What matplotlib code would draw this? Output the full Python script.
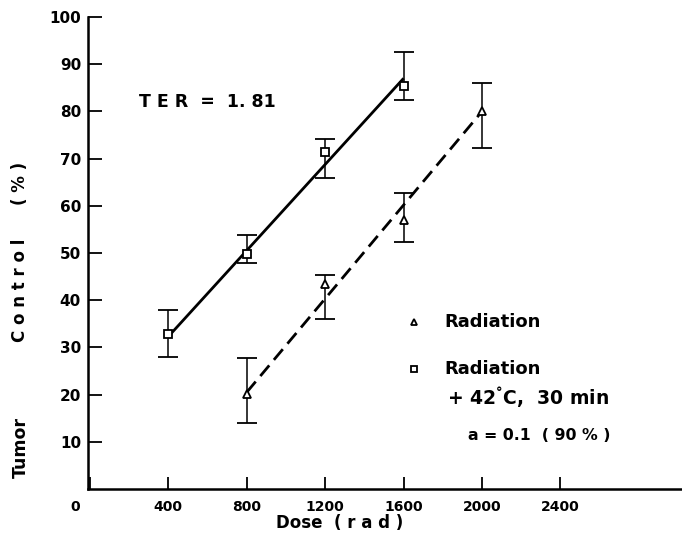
import matplotlib
matplotlib.use("Agg")
import matplotlib.pyplot as plt
from matplotlib.transforms import ScaledTranslation

# Data
dose_sq = [400, 800, 1200, 1600]
ctrl_sq = [32.8, 49.8, 71.3, 85.4]
err_sq_low = [28.0, 47.8, 65.9, 82.5]
err_sq_high = [38.0, 53.8, 74.2, 92.6]

dose_tri = [800, 1200, 1600, 2000]
ctrl_tri = [20.1, 43.5, 57.0, 80.1]
err_tri_low = [14.0, 36.0, 52.3, 72.3]
err_tri_high = [27.8, 45.3, 62.8, 86.1]

fit_sq_x = [400, 1600]
fit_sq_y = [32.3, 87.0]
fit_tri_x = [800, 2000]
fit_tri_y = [20.5, 80.0]

xticks = [0, 400, 800, 1200, 1600, 2000, 2400]
yticks = [10, 20, 30, 40, 50, 60, 70, 80, 90, 100]

plt.rcParams['font.family'] = ['DejaVu Sans']
plt.rcParams['font.weight'] = 'bold'

fig = plt.figure(figsize=(6.82, 5.39), dpi=100)
ax = fig.add_axes([0.129, 0.0928, 0.871, 0.8757])

ax.plot(fit_sq_x, fit_sq_y, color='black', lw=2.0, solid_capstyle='butt')
ax.plot(fit_tri_x, fit_tri_y, color='black', lw=2.0, dashes=(5, 2.6))

ax.errorbar(dose_sq, ctrl_sq,
            yerr=[[c - l for c, l in zip(ctrl_sq, err_sq_low)],
                  [h - c for c, h in zip(ctrl_sq, err_sq_high)]],
            fmt='s', ms=6, mfc='white', mec='black', mew=1.3,
            ecolor='black', elinewidth=1.1, capsize=7, capthick=1.3, zorder=3)
ax.errorbar(dose_tri, ctrl_tri,
            yerr=[[c - l for c, l in zip(ctrl_tri, err_tri_low)],
                  [h - c for c, h in zip(ctrl_tri, err_tri_high)]],
            fmt='^', ms=6, mfc='white', mec='black', mew=1.3,
            ecolor='black', elinewidth=1.1, capsize=7, capthick=1.3, zorder=3)

ax.set_xlim(-10, 3020)
ax.set_ylim(0, 100)
ax.spines['top'].set_visible(False)
ax.spines['right'].set_visible(False)
ax.spines['left'].set_linewidth(1.8)
ax.spines['bottom'].set_linewidth(1.8)

ax.set_xticks(xticks)
ax.set_xticklabels([str(t) for t in xticks], fontsize=10, fontweight='bold')
ax.set_yticks(yticks)
ax.set_yticklabels([str(t) for t in yticks], fontsize=11, fontweight='bold')
ax.tick_params(axis='x', direction='in', length=9, width=1.3, pad=8)
ax.tick_params(axis='y', direction='in', length=10, width=1.3, pad=5)

# shift the "0" label left like the reference
lbl0 = ax.get_xticklabels()[0]
lbl0.set_transform(lbl0.get_transform() + ScaledTranslation(-0.15, 0, fig.dpi_scale_trans))

# axis labels
fig.text(0.498, 0.03, 'Dose  ( r a d )', ha='center', va='center',
         fontsize=12, fontweight='bold')
fig.text(0.03, 0.169, 'Tumor', rotation=90, ha='center', va='center',
         fontsize=12.5, fontweight='bold')
fig.text(0.03, 0.462, 'C o n t r o l', rotation=90, ha='center', va='center',
         fontsize=12, fontweight='bold')
fig.text(0.03, 0.66, '( % )', rotation=90, ha='center', va='center',
         fontsize=12, fontweight='bold')

# annotations
ax.text(249, 82, 'T E R  =  1. 81', ha='left', va='center', fontsize=12.5, fontweight='bold')
ax.plot([1655], [35.4], marker='^', ms=5, mfc='white', mec='black', mew=1.3)
ax.text(1807, 35.4, 'Radiation', ha='left', va='center', fontsize=13, fontweight='bold')
ax.plot([1655], [25.4], marker='s', ms=5, mfc='white', mec='black', mew=1.3)
ax.text(1807, 25.4, 'Radiation', ha='left', va='center', fontsize=13, fontweight='bold')
ax.text(1822, 19.3, '+ 42$^{\\degree}$C,  30 min', ha='left', va='center',
        fontsize=13.5, fontweight='bold')
ax.text(1929, 11.4, 'a = 0.1  ( 90 % )', ha='left', va='center',
        fontsize=11.3, fontweight='bold')

fig.savefig('out.png', dpi=100)
